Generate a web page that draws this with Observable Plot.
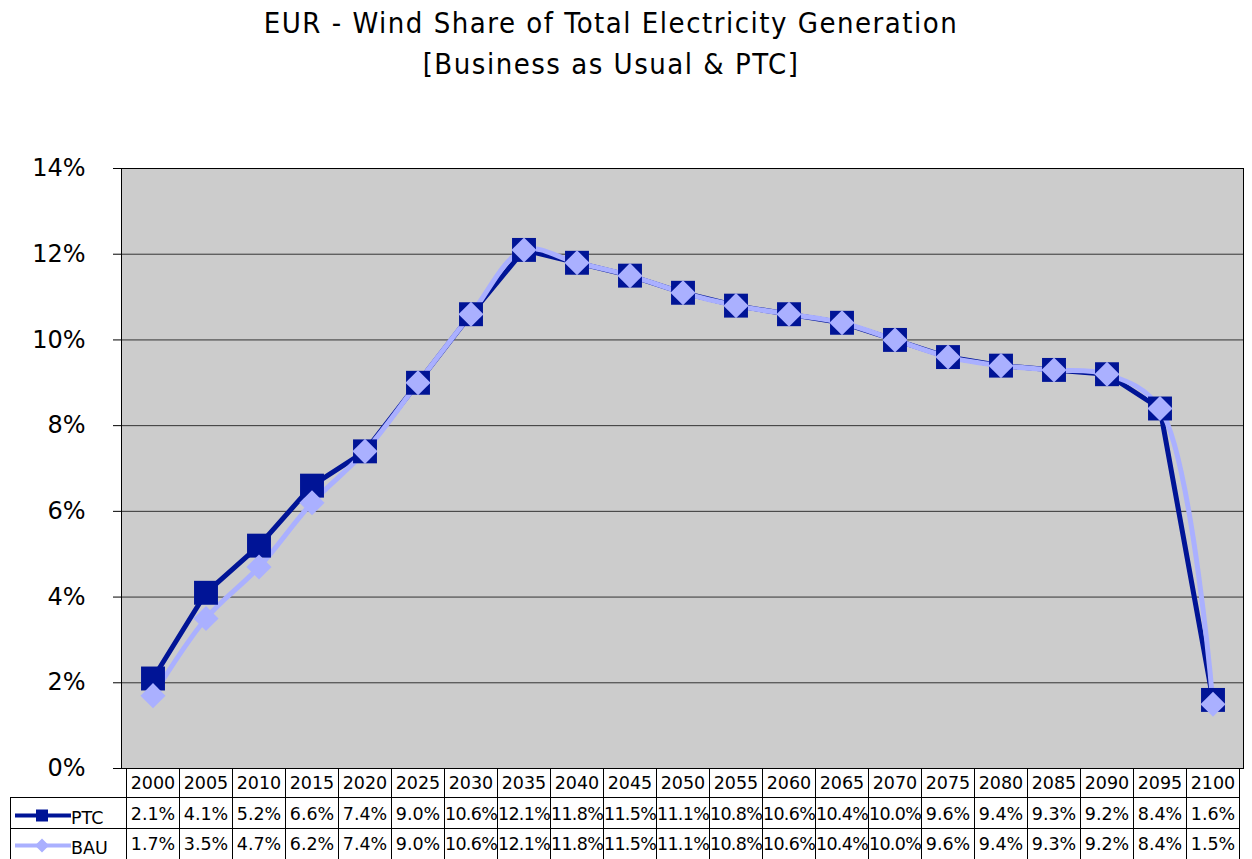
<!DOCTYPE html>
<html>
<head>
<meta charset="utf-8">
<script src="https://cdn.jsdelivr.net/npm/d3@7"></script>
<script src="https://cdn.jsdelivr.net/npm/@observablehq/plot@0.6"></script>
<style>
  html, body { margin: 0; padding: 0; background: #fff; }
  #wrap { position: relative; width: 1252px; height: 859px; overflow: hidden; font-family: "DejaVu Sans", sans-serif; }
  #wrap svg { position: absolute; left: 0; top: 0; }
  .title { position: absolute; left: 0; width: 1222px; text-align: center; font-family: "Liberation Sans Narrow", "DejaVu Sans Condensed", sans-serif; font-size: 29px; color: #000; white-space: nowrap; letter-spacing: 1.5px; }
  .cell { position: absolute; box-sizing: border-box; overflow: visible; white-space: nowrap; text-align: center; font-size: 17.5px; color: #000; }
  .cell.tight { letter-spacing: -0.7px; }
</style>
</head>
<body>
<div id="wrap"></div>
<script>
const years = ["2000","2005","2010","2015","2020","2025","2030","2035","2040","2045","2050","2055","2060","2065","2070","2075","2080","2085","2090","2095","2100"];
const ptc = [2.1,4.1,5.2,6.6,7.4,9.0,10.6,12.1,11.8,11.5,11.1,10.8,10.6,10.4,10.0,9.6,9.4,9.3,9.2,8.4,1.6];
const bau = [1.7,3.5,4.7,6.2,7.4,9.0,10.6,12.1,11.8,11.5,11.1,10.8,10.6,10.4,10.0,9.6,9.4,9.3,9.2,8.4,1.5];
const yTicks = [0,2,4,6,8,10,12,14];
const seriesNames = ["PTC","BAU"];
const titleLines = ["EUR - Wind Share of Total Electricity Generation", "[Business as Usual & PTC]"];

const NAVY = "#001496";
const LAV = "#aab0ff";

const rows = years.map((y, i) => ({year: y, ptc: ptc[i], bau: bau[i]}));

const chart = Plot.plot({
  width: 1252,
  height: 859,
  marginTop: 168,
  marginBottom: 91,
  marginLeft: 121,
  marginRight: 9,
  x: {type: "band", domain: years, padding: 0, axis: null},
  y: {domain: [0, 14], axis: null},
  style: {fontFamily: "DejaVu Sans, sans-serif", background: "transparent", color: "#000"},
  marks: [
    Plot.frame({fill: "#cccccc", stroke: "none"}),
    Plot.ruleY(yTicks, {stroke: "#333", strokeWidth: 1}),
    Plot.axisY(yTicks, {tickSize: 8, tickPadding: 28, fontSize: 24, tickFormat: d => d + "%"}),
    Plot.line(rows, {x: "year", y: "ptc", stroke: NAVY, strokeWidth: 5}),
    Plot.line(rows, {x: "year", y: "bau", stroke: LAV, strokeWidth: 5, curve: "catmull-rom"}),
    Plot.dot(rows, {x: "year", y: "ptc", symbol: "square", r: 13.5, fill: NAVY, stroke: "none"}),
    Plot.dot(rows, {x: "year", y: "bau", symbol: "diamond2", r: 11.3, fill: LAV, stroke: "none"}),
    Plot.frame({stroke: "#000", fill: "none"})
  ]
});

const wrap = document.getElementById("wrap");
wrap.appendChild(chart);

// Title
titleLines.forEach((t, i) => {
  const d = document.createElement("div");
  d.className = "title";
  d.style.top = (i === 0 ? 6 : 47) + "px";
  d.textContent = t;
  wrap.appendChild(d);
});

// Data table below the plot, aligned on the x band scale
const sx = chart.scale("x");
const sy = chart.scale("y");
const bw = sx.bandwidth;
const top0 = sy.apply(0);
const rowH = [28, 31, 31];
const rowTop = [top0 + 1, top0 + 1 + rowH[0], top0 + 1 + rowH[0] + rowH[1]];
const x0 = sx.apply(years[0]);

function addCell(left, top, w, h, text, styles, cls) {
  const c = document.createElement("div");
  c.className = "cell" + (cls ? " " + cls : "");
  Object.assign(c.style, {left: left + "px", top: top + "px", width: w + "px", height: h + "px", lineHeight: h + "px"}, styles || {});
  c.textContent = text;
  wrap.appendChild(c);
  return c;
}

// header
years.forEach((y, i) => {
  addCell(sx.apply(y), rowTop[0], bw + 1, rowH[0] + 1, y, {border: "1px solid #000", borderTop: "none"});
});
const vals = [ptc, bau];
vals.forEach((arr, r) => {
  years.forEach((y, i) => {
    const txt = arr[i].toFixed(1) + "%";
    addCell(sx.apply(y), rowTop[r + 1], bw + 1, rowH[r + 1] + 1, txt,
      {border: "1px solid #000", borderTop: r === 0 ? "1px solid #000" : "none"},
      txt.length > 4 ? "tight" : "");
  });
});

// legend column
const legLeft = 10;
seriesNames.forEach((name, r) => {
  const c = addCell(legLeft, rowTop[r + 1], x0 - legLeft + 1, rowH[r + 1] + 1, "", {border: "1px solid #000", borderTop: r === 0 ? "1px solid #000" : "none", textAlign: "left"});
  const svgNS = "http://www.w3.org/2000/svg";
  const s = document.createElementNS(svgNS, "svg");
  s.setAttribute("width", 60); s.setAttribute("height", rowH[r + 1]);
  s.style.position = "absolute"; s.style.left = "3px"; s.style.top = "0px";
  const ln = document.createElementNS(svgNS, "line");
  const cy = rowH[r + 1] / 2 + 2;
  ln.setAttribute("x1", 1); ln.setAttribute("x2", 57); ln.setAttribute("y1", cy); ln.setAttribute("y2", cy);
  ln.setAttribute("stroke", r === 0 ? NAVY : LAV); ln.setAttribute("stroke-width", 4);
  s.appendChild(ln);
  const m = document.createElementNS(svgNS, "path");
  const mx = 28;
  if (r === 0) m.setAttribute("d", `M${mx-6},${cy-6}h12v12h-12z`);
  else m.setAttribute("d", `M${mx},${cy-7}l7,7l-7,7l-7,-7z`);
  m.setAttribute("fill", r === 0 ? NAVY : LAV);
  s.appendChild(m);
  c.appendChild(s);
  const t = document.createElement("span");
  t.textContent = name;
  t.style.position = "absolute"; t.style.left = "60px"; t.style.top = "4px";
  c.appendChild(t);
});
</script>
</body>
</html>
